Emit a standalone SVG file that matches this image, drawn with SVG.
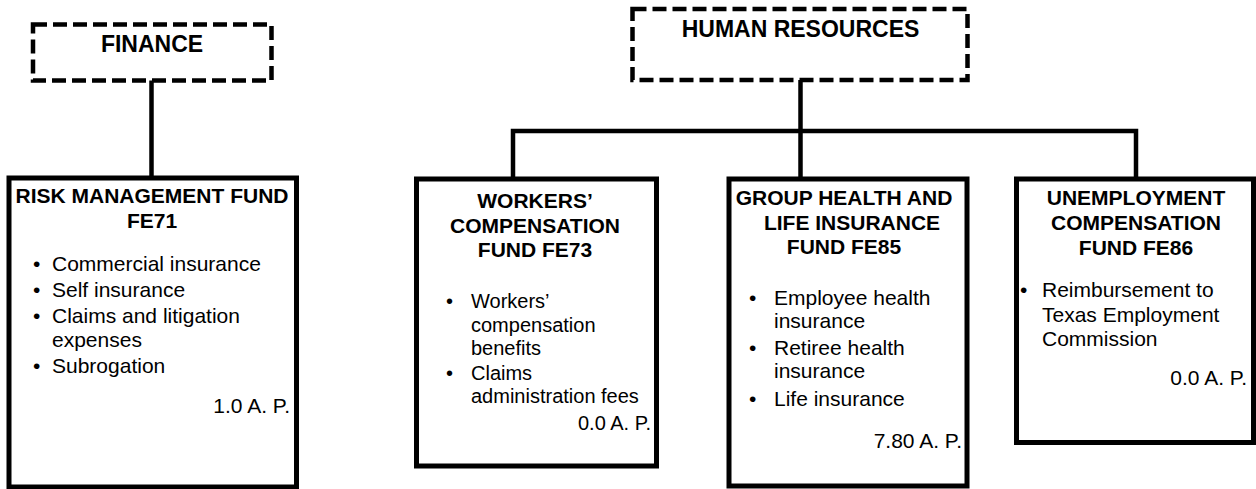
<svg xmlns="http://www.w3.org/2000/svg" width="1256" height="489" viewBox="0 0 1256 489">
<style>
text{font-family:"Liberation Sans",Arial,sans-serif;fill:#000}
.t{font-size:23px;font-weight:bold;text-anchor:middle}
.h{font-size:21px;font-weight:bold;text-anchor:middle}
.b{font-size:21px}
.bw{font-size:20px}
.r{text-anchor:end}
.box{fill:#fff;stroke:#000;stroke-width:5}
.dash{fill:#fff;stroke:#000;stroke-width:4.5;stroke-dasharray:14 6}
.con{fill:none;stroke:#000;stroke-width:4.5}
</style>
<rect width="1256" height="489" fill="#fff"/>
<g id="connectors">
<line class="con" x1="151.5" y1="80" x2="151.5" y2="178"/>
<line class="con" x1="800.5" y1="80" x2="800.5" y2="179"/>
<polyline class="con" points="513,179 513,131 1136,131 1136,179"/>
</g>
<g id="finance">
<rect class="dash" x="33" y="24.5" width="238.5" height="56"/>
<text class="t" x="152" y="52">FINANCE</text>
</g>
<g id="hr">
<rect class="dash" x="632.5" y="9" width="335" height="71"/>
<text class="t" x="800.5" y="37">HUMAN RESOURCES</text>
</g>
<g id="fe71">
<rect class="box" x="9" y="178" width="287.5" height="309"/>
<text class="h" x="152" y="203">RISK MANAGEMENT FUND</text>
<text class="h" x="152" y="228">FE71</text>
<g class="b">
<text x="33" y="270.5">•</text><text x="52" y="270.5">Commercial insurance</text>
<text x="33" y="296.5">•</text><text x="52" y="296.5">Self insurance</text>
<text x="33" y="322.5">•</text><text x="52" y="322.5">Claims and litigation</text>
<text x="52" y="346.5">expenses</text>
<text x="33" y="373">•</text><text x="52" y="373">Subrogation</text>
<text class="r" x="290" y="413">1.0 A. P.</text>
</g>
</g>
<g id="fe73">
<rect class="box" x="416.5" y="179" width="240" height="287"/>
<text class="h" x="535" y="208">WORKERS’</text>
<text class="h" x="535" y="233">COMPENSATION</text>
<text class="h" x="535" y="257">FUND FE73</text>
<g class="bw">
<text x="446" y="308">•</text><text x="471" y="308">Workers’</text>
<text x="471" y="332">compensation</text>
<text x="471" y="355">benefits</text>
<text x="446" y="380">•</text><text x="471" y="380">Claims</text>
<text x="471" y="403">administration fees</text>
<text class="r" x="651" y="430">0.0 A. P.</text>
</g>
</g>
<g id="fe85">
<rect class="box" x="729" y="179" width="238" height="307"/>
<text class="h" x="844" y="205">GROUP HEALTH AND</text>
<text class="h" x="852" y="230">LIFE INSURANCE</text>
<text class="h" x="844" y="254">FUND FE85</text>
<g class="b">
<text x="749" y="305">•</text><text x="774" y="305">Employee health</text>
<text x="774" y="328">insurance</text>
<text x="749" y="355">•</text><text x="774" y="355">Retiree health</text>
<text x="774" y="378">insurance</text>
<text x="749" y="406">•</text><text x="774" y="406">Life insurance</text>
<text class="r" x="962" y="448">7.80 A. P.</text>
</g>
</g>
<g id="fe86">
<rect class="box" x="1016.5" y="179" width="237" height="263.5"/>
<text class="h" x="1136" y="205">UNEMPLOYMENT</text>
<text class="h" x="1136" y="230">COMPENSATION</text>
<text class="h" x="1136" y="255">FUND FE86</text>
<g class="b">
<text x="1020" y="297">•</text><text x="1042" y="297">Reimbursement to</text>
<text x="1042" y="322">Texas Employment</text>
<text x="1042" y="346">Commission</text>
<text class="r" x="1247" y="385">0.0 A. P.</text>
</g>
</g>
</svg>
